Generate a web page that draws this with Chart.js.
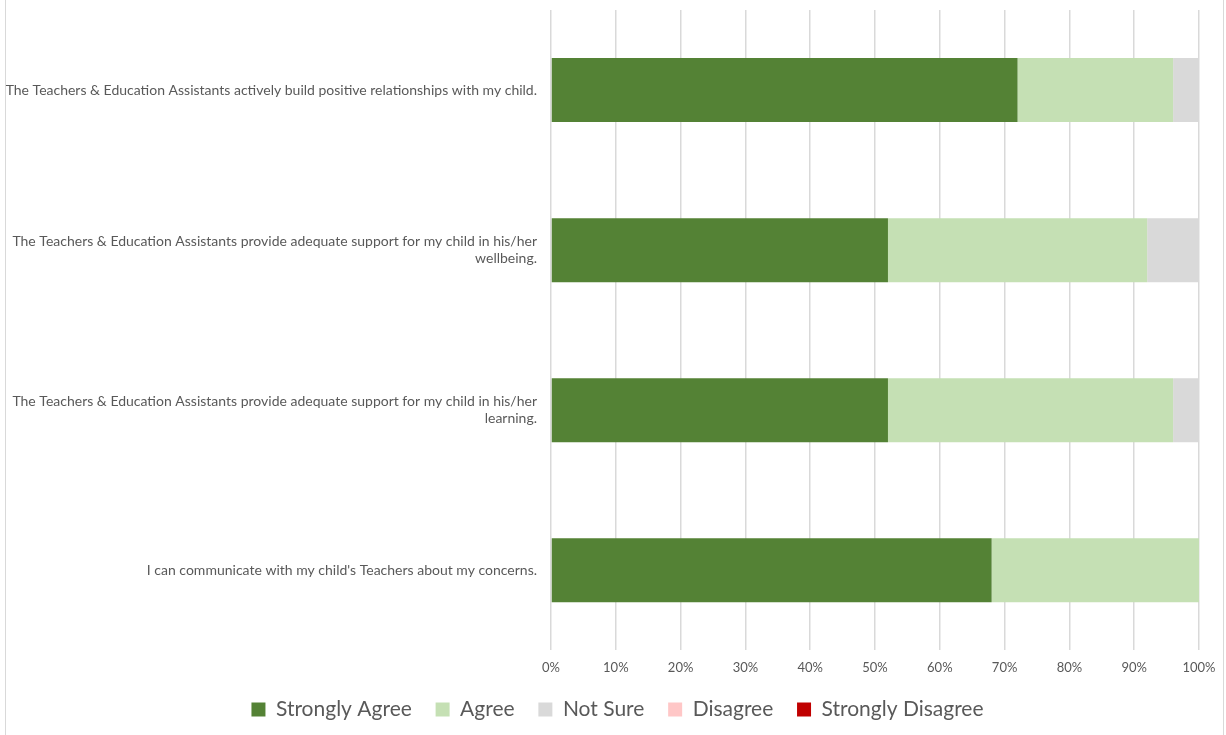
<!DOCTYPE html>
<html>
<head>
<meta charset="utf-8">
<script src="https://cdn.jsdelivr.net/npm/chart.js@4/dist/chart.umd.min.js"></script>
<style>
  html,body{margin:0;padding:0;background:#fff;overflow:hidden;}
  #wrap{position:absolute;left:0;top:0;width:1226px;height:735px;overflow:hidden;}
  #frame{position:absolute;left:5px;top:-2px;width:1217px;height:740px;border-left:1px solid #d9d9d9;border-right:1px solid #d9d9d9;}
  canvas{position:absolute;left:0;top:0;}
</style>
</head>
<body>
<div id="wrap">
  <div id="frame"></div>
  <canvas id="chart" width="1226" height="736"></canvas>
</div>
<script>
const questions = [
  'The Teachers & Education Assistants actively build positive relationships with my child.',
  ['The Teachers & Education Assistants provide adequate support for my child in his/her', 'wellbeing.'],
  ['The Teachers & Education Assistants provide adequate support for my child in his/her', 'learning.'],
  "I can communicate with my child's Teachers about my concerns."
];
const stronglyAgree = [72, 52, 52, 68];
const agree = [24, 40, 44, 32];
const notSure = [4, 8, 4, 0];
const disagree = [0, 0, 0, 0];
const stronglyDisagree = [0, 0, 0, 0];

const font = 'Lato, "Open Sans", sans-serif';
const textCol = '#595959';

const $ = id => document.getElementById(id);
const ds = (label, data, color) => ({label, data, backgroundColor:color, borderWidth:0, barPercentage:0.4, categoryPercentage:1});

// legend sits a bit right of the canvas centre in the original
const shiftLegend = {id:'shiftLegend', afterLayout(c){ c.legend.left += 18; c.legend.right += 18; }};

new Chart($('chart'), {
  type:'bar',
  data:{
    labels:questions,
    datasets:[
      ds('Strongly Agree', stronglyAgree, '#548235'),
      ds('Agree', agree, '#c5e0b4'),
      ds('Not Sure', notSure, '#d9d9d9'),
      ds('Disagree', disagree, '#ffc7c7'),
      ds('Strongly Disagree', stronglyDisagree, '#c00000')
    ]
  },
  plugins:[shiftLegend],
  options:{
    indexAxis:'y',
    responsive:false,
    animation:false,
    layout:{padding:{top:10, right:27, bottom:6, left:0}},
    plugins:{
      tooltip:{enabled:false},
      legend:{
        position:'bottom',
        labels:{
          boxWidth:14, boxHeight:14, padding:13, color:textCol, font:{family:font, size:21},
          // a couple of trailing spaces widen the gap between items
          generateLabels:c => Chart.defaults.plugins.legend.labels.generateLabels(c).map((l,i,a) => ({...l, text: i < a.length-1 ? l.text + '  ' : l.text}))
        }
      }
    },
    scales:{
      x:{
        stacked:true, min:0, max:100,
        border:{display:false},
        grid:{color:'#d9d9d9', lineWidth:1.5, drawTicks:false},
        ticks:{stepSize:10, padding:10, color:textCol, font:{family:font, size:13}, callback:v => v + '%'}
      },
      y:{
        stacked:true,
        border:{display:false},
        grid:{display:false, drawTicks:false},
        ticks:{padding:14, color:textCol, font:{family:font, size:14}},
        afterFit:s => { s.width = 551; s.paddingTop = 0; s.paddingBottom = 0; }
      }
    }
  }
});
</script>
</body>
</html>
